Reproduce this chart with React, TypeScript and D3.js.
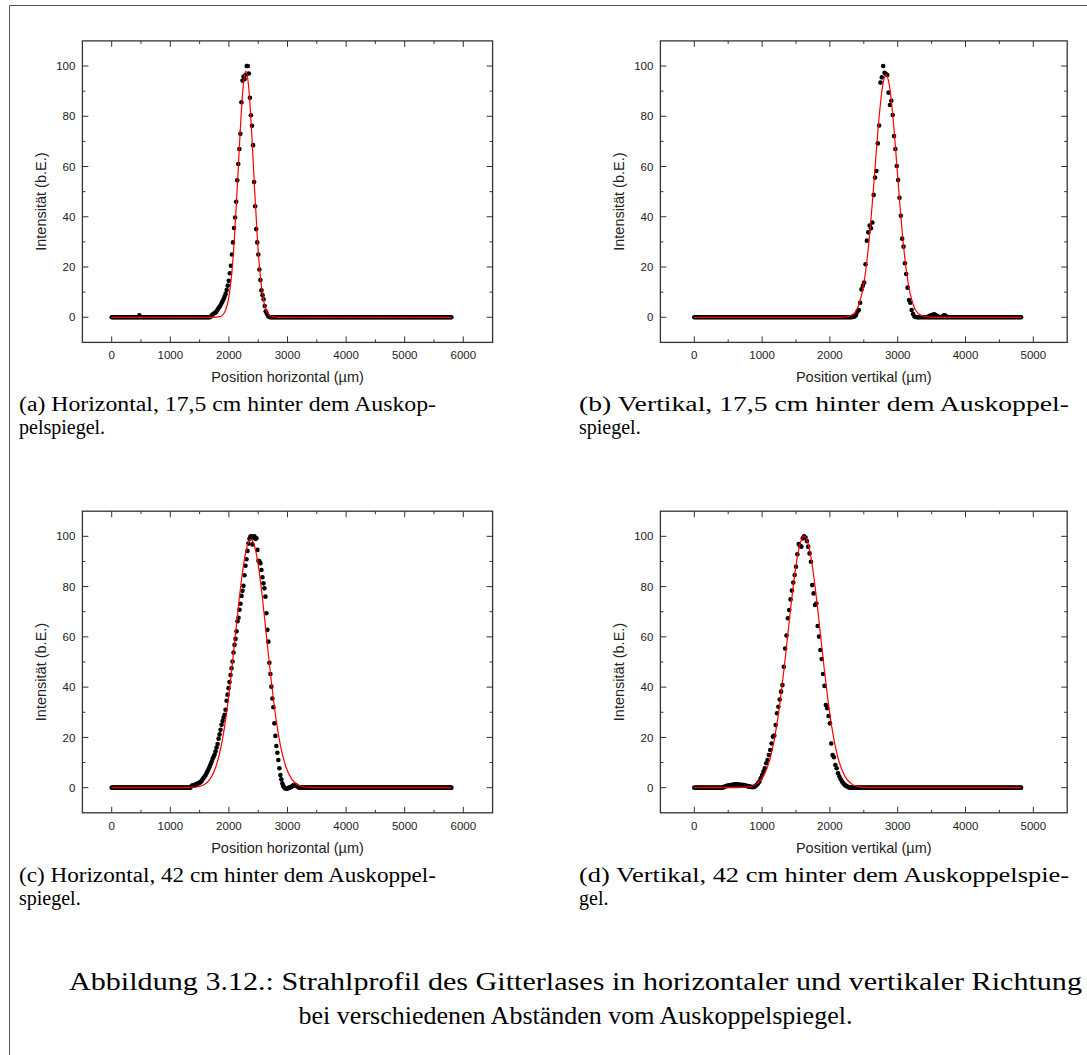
import React from "react";
import * as d3 from "d3";

// scan ranges of the camera line profiles (µm)
const scanH = [0, 5800];
const scanV = [0, 4820];

// (a) horizontal, 17,5 cm - measured points around the peak, outside: 0
const aStart = 1692;
const aStep = 18;
const aPeak = [
  0.3, 0.8, 1.2, 1.5, 1.8, 2.1, 2.8, 3.5, 4.1, 4.6,
  5.5, 6.3, 7.2, 8.2, 9.3, 10.9, 12.6, 14.5, 17.5, 20.5,
  25, 29.8, 35.5, 39.7, 46, 54.5, 61, 67, 73, 85.6,
  94.2, 95.8, 94.8, 96.5, 100, 100, 97, 87.4, 80.4, 76.2,
  68.5, 53.8, 44.2, 35.1, 29.8, 25, 19, 14.8, 10.7, 8.8,
  7.2, 4.5, 2.4, 1.5, 0.6, 0.2, 0,
];
const aExtra = [[472, 0.8]];
const aFit = [
  [0, 0], [1740, 0], [1840, 0.25], [1890, 0.87], [1940, 2.6], [1990, 6.8],
  [2040, 15.4], [2090, 30.0], [2140, 50.4], [2190, 72.9], [2240, 91.0],
  [2290, 98], [2340, 91.0], [2390, 72.9], [2440, 50.4], [2490, 30.0],
  [2540, 15.4], [2590, 6.8], [2640, 2.6], [2690, 0.87], [2740, 0.25],
  [2840, 0], [5800, 0],
];

// (b) vertikal, 17,5 cm
const bStart = 2346;
const bStep = 20;
const bPeak = [
  0.1, 0.3, 0.9, 2.2, 2.9, 5.8, 11.1, 12.5, 13.8, 21.1,
  30.5, 33.8, 36.5, 35.4, 37.7, 48.7, 55.6, 58.2, 69.2, 76.3,
  93.4, 95.5, 100, 97.3, 96.8, 96.4, 89.4, 84.5, 86.2, 80.5,
  72.1, 67, 60.2, 54.6, 47.6, 40.4, 31.3, 28.1, 21.5, 17.2,
  11.8, 6.9, 5.8, 2.9, 1.3, 0.3, 0.1, 0,
];
const bExtra = [
  [3460, 0.4], [3480, 0.7], [3500, 0.9], [3520, 1.0], [3540, 1.2], [3560, 0.9],
  [3580, 0.5], [3600, 0.3], [3660, 0.3], [3680, 0.8], [3700, 0.7], [3720, 0.3],
];
const bFit = [
  [0, 0], [2128, 0], [2228, 0.13], [2328, 0.98], [2378, 2.3], [2428, 5.1],
  [2478, 10.2], [2528, 18.5], [2578, 30.6], [2628, 46.3], [2678, 63.8],
  [2728, 80.3], [2778, 92.2], [2828, 96.5], [2878, 92.2], [2928, 80.3],
  [2978, 63.8], [3028, 46.3], [3078, 30.6], [3128, 18.5], [3178, 10.2],
  [3228, 5.1], [3278, 2.3], [3328, 0.98], [3428, 0.13], [3528, 0], [4820, 0],
];

// (c) horizontal, 42 cm
const cStart = 1365;
const cStep = 17;
const cPeak = [
  0.7, 0.8, 0.9, 1.0, 1.2, 1.4, 1.6, 1.8, 2.0, 2.3,
  2.7, 3.3, 3.9, 4.4, 5.0, 5.8, 6.6, 7.4, 8.3, 9.3,
  10.3, 11.5, 12.3, 13.2, 14.5, 16.0, 17.4, 19.5, 21.2, 23.0,
  25.0, 26.5, 27.9, 29.0, 31.0, 34.6, 37.0, 39.6, 42.0, 44.8,
  47.5, 50.2, 53.8, 56.8, 59.2, 62.2, 66.2, 67.6, 70.8, 73.2,
  76.3, 78.3, 80.3, 84.5, 88.3, 90.9, 94.2, 97.1, 99.0, 99.9,
  100, 96.8, 99.5, 100, 99.0, 99.2, 94.6, 90.3, 90.1, 89.3,
  86.6, 83.7, 81.3, 79.3, 76.0, 69.4, 62.8, 58.1, 49.7, 45.2,
  40.2, 35.5, 32.0, 25.6, 20.6, 16.6, 13.9, 11.0, 7.7, 5.0,
  3.3, 1.7, 0.6, 0.1, -0.3, -0.4, -0.3, -0.2, 0.0, 0.1,
  0.3, 0.6, 0.9, 1.1, 1.0, 0.8, 0.5, 0.2, 0.1, 0,
];
const cExtra: number[][] = [];
const cFit = [
  [0, 0], [1175, 0], [1375, 0.09], [1475, 0.35], [1575, 1.15], [1675, 3.3],
  [1775, 8.1], [1875, 17.3], [1925, 24.1], [1975, 32.4], [2025, 42.1],
  [2075, 52.8], [2125, 63.9], [2175, 74.8], [2225, 84.5], [2275, 92.2],
  [2325, 97.1], [2375, 98.8], [2425, 97.1], [2475, 92.2], [2525, 84.5],
  [2575, 74.8], [2625, 63.9], [2675, 52.8], [2725, 42.1], [2775, 32.4],
  [2825, 24.1], [2875, 17.3], [2975, 8.1], [3075, 3.3], [3175, 1.15],
  [3275, 0.35], [3375, 0.09], [3575, 0], [5800, 0],
];

// (d) vertikal, 42 cm
const dStart = 440;
const dStep = 20;
const dPeak = [
  0.3, 0.5, 0.7, 0.8, 0.9, 1.0, 1.1, 1.2, 1.3, 1.3,
  1.2, 1.2, 1.1, 1.1, 1.0, 0.9, 0.8, 0.6, 0.5, 0.4,
  0.3, 0.2, 0.3, 0.6,
  1.1, 1.7, 2.4, 3.7, 5.0, 6.4, 7.7, 9.7, 11.0, 13.0,
  15.0, 17.6, 20.3, 20.7, 24.9, 29.6, 32.2, 35.1, 38.2, 40.8,
  48.1, 55.4, 60.5, 67.4, 70.7, 74.9, 78.4, 81.6, 84.6, 87.9,
  92.9, 96.9, 96.2, 95.9, 99.2, 100, 99.5, 98.1, 95.9, 93.2,
  89.9, 80.6, 77.3, 72.7, 73.3, 64.3, 60.1, 54.8, 51.2, 45.2,
  40.5, 32.9, 31.6, 28.5, 25.6, 17.6, 13.0, 12.1, 9.0, 7.7,
  5.7, 4.4, 3.3, 2.4, 1.7, 1.1, 0.7, 0.4, 0.1,
];
const dExtra: number[][] = [];
const dFit = [
  [0, 0], [520, 0], [720, 0.1], [820, 0.42], [920, 1.5], [1020, 4.6],
  [1120, 11.8], [1170, 17.7], [1220, 25.5], [1270, 35.1], [1320, 46.4],
  [1370, 58.6], [1420, 71.1], [1470, 82.5], [1520, 91.8], [1570, 97.9],
  [1620, 100], [1670, 97.9], [1720, 91.8], [1770, 82.5], [1820, 71.1],
  [1870, 58.6], [1920, 46.4], [1970, 35.1], [2020, 25.5], [2070, 17.7],
  [2120, 11.8], [2220, 4.6], [2320, 1.5], [2420, 0.42], [2520, 0.1],
  [2720, 0], [4820, 0],
];

// axes
const xTicksH = [0, 1000, 2000, 3000, 4000, 5000, 6000];
const xMinorH = [500, 1500, 2500, 3500, 4500, 5500];
const xTicksV = [0, 1000, 2000, 3000, 4000, 5000];
const xMinorV = [500, 1500, 2500, 3500, 4500];
const yTicks = [0, 20, 40, 60, 80, 100];
const yMinor = [10, 30, 50, 70, 90];
const yDomain = [-10, 110];
const yTitle = "Intensität (b.E.)";
const xTitleH = "Position horizontal (µm)";
const xTitleV = "Position vertikal (µm)";

const captions = [
  { x: 19, y: 411, w: 417, lines: ["(a) Horizontal, 17,5 cm hinter dem Auskop-", "pelspiegel."] },
  { x: 579, y: 411, w: 490, lines: ["(b) Vertikal, 17,5 cm hinter dem Auskoppel-", "spiegel."] },
  { x: 19, y: 882, w: 417, lines: ["(c) Horizontal, 42 cm hinter dem Auskoppel-", "spiegel."] },
  { x: 579, y: 882, w: 490, lines: ["(d) Vertikal, 42 cm hinter dem Auskoppelspie-", "gel."] },
];
const figCaption = [
  "Abbildung 3.12.: Strahlprofil des Gitterlases in horizontaler und vertikaler Richtung",
  "bei verschiedenen Abständen vom Auskoppelspiegel.",
];

const sans = "'Liberation Sans', Arial, sans-serif";
const serif = "'Liberation Serif', 'DejaVu Serif', serif";
const frameColor = "#333";

function Panel(props) {
  const { box, xDomain, xTicks, xMinor, xTitle, scan, start, step, peak, extra, fit } = props;
  const x = d3.scaleLinear().domain(xDomain).range([box.left, box.right]);
  const y = d3.scaleLinear().domain(yDomain).range([box.bottom, box.top]);

  const end = start + (peak.length - 1) * step;
  const baseline = d3
    .range(scan[0], scan[1] + 1, step)
    .filter((v) => v < start - step / 2 || v > end + step / 2)
    .map((v) => [v, 0]);
  const points = [
    ...baseline,
    ...peak.map((v, i) => [start + i * step, v]),
    ...extra,
  ];

  const line = d3
    .line()
    .x((d) => x(d[0]))
    .y((d) => y(d[1]))
    .curve(d3.curveMonotoneX);

  const major = 6;
  const minor = 3;

  return (
    <g>
      {points.map((d, i) => (
        <circle key={i} cx={x(d[0])} cy={y(d[1])} r={2.3} fill="#000" />
      ))}
      <path d={line(fit)} fill="none" stroke="#ff0000" strokeWidth={1.2} />

      <rect
        x={box.left}
        y={box.top}
        width={box.right - box.left}
        height={box.bottom - box.top}
        fill="none"
        stroke={frameColor}
        strokeWidth={1.3}
      />
      {xTicks.map((t) => (
        <g key={"xt" + t}>
          <line x1={x(t)} x2={x(t)} y1={box.bottom} y2={box.bottom - major} stroke={frameColor} />
          <line x1={x(t)} x2={x(t)} y1={box.top} y2={box.top + major} stroke={frameColor} />
          <text x={x(t)} y={box.bottom + 17} textAnchor="middle" fontSize={11.5} fontFamily={sans} fill="#222">
            {t}
          </text>
        </g>
      ))}
      {xMinor.map((t) => (
        <g key={"xm" + t}>
          <line x1={x(t)} x2={x(t)} y1={box.bottom} y2={box.bottom - minor} stroke={frameColor} />
          <line x1={x(t)} x2={x(t)} y1={box.top} y2={box.top + minor} stroke={frameColor} />
        </g>
      ))}
      {yTicks.map((t) => (
        <g key={"yt" + t}>
          <line x1={box.left} x2={box.left + major} y1={y(t)} y2={y(t)} stroke={frameColor} />
          <line x1={box.right} x2={box.right - major} y1={y(t)} y2={y(t)} stroke={frameColor} />
          <text
            x={box.left - 7}
            y={y(t)}
            dy="0.36em"
            textAnchor="end"
            fontSize={11.5}
            fontFamily={sans}
            fill="#222"
          >
            {t}
          </text>
        </g>
      ))}
      {yMinor.map((t) => (
        <g key={"ym" + t}>
          <line x1={box.left} x2={box.left + minor} y1={y(t)} y2={y(t)} stroke={frameColor} />
          <line x1={box.right} x2={box.right - minor} y1={y(t)} y2={y(t)} stroke={frameColor} />
        </g>
      ))}

      <text
        x={(box.left + box.right) / 2}
        y={box.bottom + 40}
        textAnchor="middle"
        fontSize={14.5}
        fontFamily={sans}
        fill="#222"
      >
        {xTitle}
      </text>
      <text
        transform={`translate(${box.left - 42},${(box.top + box.bottom) / 2 + 10}) rotate(-90)`}
        textAnchor="middle"
        dy="0.36em"
        fontSize={14.5}
        fontFamily={sans}
        fill="#222"
      >
        {yTitle}
      </text>
    </g>
  );
}

export default function App() {
  const top1 = { top: 40.9, bottom: 342.4 };
  const top2 = { top: 511.2, bottom: 812.8 };
  const leftCol = { left: 82.4, right: 492.6 };
  const rightCol = { left: 660.4, right: 1067.2 };

  return (
    <div style={{ position: "absolute", left: 0, top: 0 }}>
      <svg width={1087} height={1055} style={{ display: "block", background: "#fff" }}>
        <line x1={9.5} y1={5.5} x2={9.5} y2={1055} stroke="#555" />
        <line x1={9.5} y1={5.5} x2={1087} y2={5.5} stroke="#555" />

        <Panel
          box={{ ...leftCol, ...top1 }}
          xDomain={[-500, 6500]}
          xTicks={xTicksH}
          xMinor={xMinorH}
          xTitle={xTitleH}
          scan={scanH}
          start={aStart}
          step={aStep}
          peak={aPeak}
          extra={aExtra}
          fit={aFit}
        />
        <Panel
          box={{ ...rightCol, ...top1 }}
          xDomain={[-500, 5500]}
          xTicks={xTicksV}
          xMinor={xMinorV}
          xTitle={xTitleV}
          scan={scanV}
          start={bStart}
          step={bStep}
          peak={bPeak}
          extra={bExtra}
          fit={bFit}
        />
        <Panel
          box={{ ...leftCol, ...top2 }}
          xDomain={[-500, 6500]}
          xTicks={xTicksH}
          xMinor={xMinorH}
          xTitle={xTitleH}
          scan={scanH}
          start={cStart}
          step={cStep}
          peak={cPeak}
          extra={cExtra}
          fit={cFit}
        />
        <Panel
          box={{ ...rightCol, ...top2 }}
          xDomain={[-500, 5500]}
          xTicks={xTicksV}
          xMinor={xMinorV}
          xTitle={xTitleV}
          scan={scanV}
          start={dStart}
          step={dStep}
          peak={dPeak}
          extra={dExtra}
          fit={dFit}
        />

        {captions.map((c, i) => (
          <g key={i} fontFamily={serif} fontSize={20} fill="#000">
            <text x={c.x} y={c.y} textLength={c.w} lengthAdjust="spacingAndGlyphs">
              {c.lines[0]}
            </text>
            <text x={c.x} y={c.y + 23}>
              {c.lines[1]}
            </text>
          </g>
        ))}
        <text
          x={69}
          y={990}
          fontFamily={serif}
          fontSize={26}
          textLength={1013}
          lengthAdjust="spacingAndGlyphs"
        >
          {figCaption[0]}
        </text>
        <text x={575.5} y={1024} textAnchor="middle" fontFamily={serif} fontSize={26}>
          {figCaption[1]}
        </text>
      </svg>
    </div>
  );
}
